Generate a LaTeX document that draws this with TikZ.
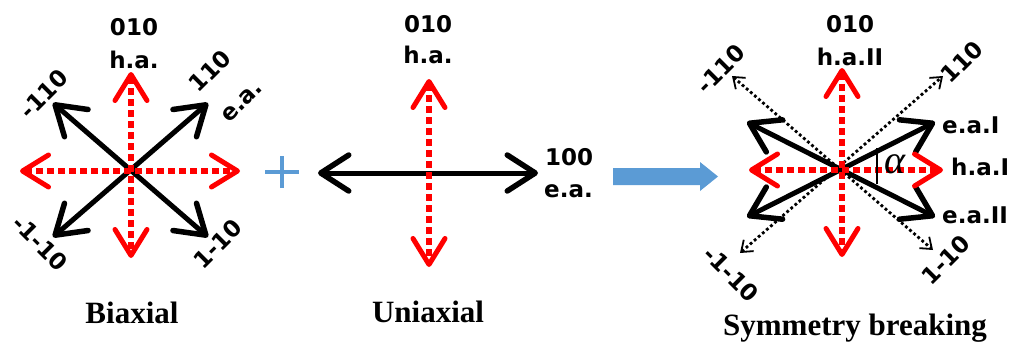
\documentclass[tikz,border=0pt]{standalone}
\usepackage{fontspec}
\setmainfont{Liberation Serif}
\newfontfamily\labfont{DejaVu Sans}
\usetikzlibrary{arrows.meta}
\definecolor{axred}{RGB}{255,0,0}
\definecolor{plusblue}{RGB}{91,155,213}
\begin{document}
\begin{tikzpicture}[x=1pt,y=-1pt,
  redaxis/.style={draw=axred, line width=6pt, dash pattern=on 7pt off 4pt,
    {Straight Barb[length=26pt,width=32pt,line width=5pt,round]}-{Straight Barb[length=26pt,width=32pt,line width=5pt,round]}},
  blackaxis/.style={draw=black, line width=5pt,
    {Straight Barb[length=28pt,width=36pt,line width=5.5pt,round]}-{Straight Barb[length=28pt,width=36pt,line width=5.5pt,round]}},
  dotaxis/.style={draw=black, line width=2.8pt, dash pattern=on 2.8pt off 2.6pt,
    {Straight Barb[length=10pt,width=15pt,line width=1.8pt]}-{Straight Barb[length=10pt,width=15pt,line width=1.8pt]}},
  lab/.style={font=\labfont\bfseries\fontsize{23}{23}\selectfont, inner sep=0pt},
  title/.style={font=\bfseries\fontsize{31}{31}\selectfont, inner sep=0pt, anchor=base}
]
\useasboundingbox (0,0) rectangle (1011,343);

% ---------- Biaxial ----------
\coordinate (bU) at (131,72);  \coordinate (bD) at (131,258);
\coordinate (bL) at (20,171);  \coordinate (bR) at (240,171);
\coordinate (bUL) at (53,103); \coordinate (bLR) at (208,237);
\coordinate (bLL) at (53,237); \coordinate (bUR) at (208,103);
\draw[blackaxis] (bUL) -- (bLR);
\draw[blackaxis] (bLL) -- (bUR);
\draw[redaxis] (bU) -- (bD);
\draw[redaxis] (bL) -- (bR);
\node[lab, anchor=base] (b010) at (134,35) {010};
\node[lab, anchor=base] (bha) at (134,68) {h.a.};
\node[lab, rotate=45] (bm110) at (44,94) {-110};
\node[lab, rotate=45] (b110) at (210,71) {110};
\node[lab, rotate=45] (bea) at (242,102) {e.a.};
\node[lab, rotate=-45] (bm1m10) at (40,243) {-1-10};
\node[lab, rotate=45] (b1m10) at (218,244) {1-10};
\node[title] (btitle) at (132,323) {Biaxial};

% ---------- plus ----------
\node[inner sep=0pt, minimum size=0pt] (plus) at (282,172) {};
\draw[plusblue, line width=4.5pt] ([xshift=-17pt]plus.center) -- ([xshift=17pt]plus.center);
\draw[plusblue, line width=4.5pt] ([yshift=-16pt]plus.center) -- ([yshift=16pt]plus.center);

% ---------- Uniaxial ----------
\coordinate (uU) at (429,79);  \coordinate (uD) at (429,267);
\coordinate (uL) at (318,173); \coordinate (uR) at (538,173);
\draw[blackaxis] (uL) -- (uR);
\draw[redaxis] (uU) -- (uD);
\node[lab, anchor=base] (u010) at (428,32) {010};
\node[lab, anchor=base] (uha) at (428,63) {h.a.};
\node[lab, anchor=base west] (u100) at (545,165) {100};
\node[lab, anchor=base west] (uea) at (544,197) {e.a.};
\node[title] (utitle) at (428,322) {Uniaxial};

% ---------- blue arrow ----------
\fill[plusblue] (613,168) -- (700,168) -- (700,162) -- (718,176.5) -- (700,191) -- (700,185) -- (613,185) -- cycle;

% ---------- Symmetry breaking ----------
\coordinate (sU) at (842,68);   \coordinate (sD) at (842,257);
\coordinate (sL) at (749,170);  \coordinate (sR) at (943,170);
\coordinate (sUL) at (747,122); \coordinate (sLR) at (935,217);
\coordinate (sLL) at (747,217); \coordinate (sUR) at (935,122);
\coordinate (dUL) at (732,76);  \coordinate (dLR) at (933,250);
\coordinate (dLL) at (740,253); \coordinate (dUR) at (943,76);
\draw[dotaxis] (dUL) -- (dLR);
\draw[dotaxis] (dLL) -- (dUR);
\draw[blackaxis] (sUL) -- (sLR);
\draw[blackaxis] (sLL) -- (sUR);
\draw[redaxis] (sU) -- (sD);
\draw[redaxis] (sL) -- (sR);
\coordinate (aT) at (877,148); \coordinate (aB) at (877,184);
\draw[line width=2.2pt] (aT) -- (aB);
\node[inner sep=0pt, font=\itshape\fontsize{40}{40}\selectfont] (alpha) at (895,164) {α};
\node[lab, anchor=base] (s010) at (850,32) {010};
\node[lab, anchor=base] (sha) at (850,65) {h.a.II};
\node[lab, rotate=45] (sm110) at (721,69) {-110};
\node[lab, rotate=45] (s110) at (962,62) {110};
\node[lab, anchor=base west] (seaI) at (942,133) {e.a.I};
\node[lab, anchor=base west] (shaI) at (951,175) {h.a.I};
\node[lab, anchor=base west] (seaII) at (942,223) {e.a.II};
\node[lab, rotate=-45] (sm1m10) at (731,274) {-1-10};
\node[lab, rotate=45] (s1m10) at (946,260) {1-10};
\node[title] (stitle) at (855,335) {Symmetry breaking};
\end{tikzpicture}
\end{document}
